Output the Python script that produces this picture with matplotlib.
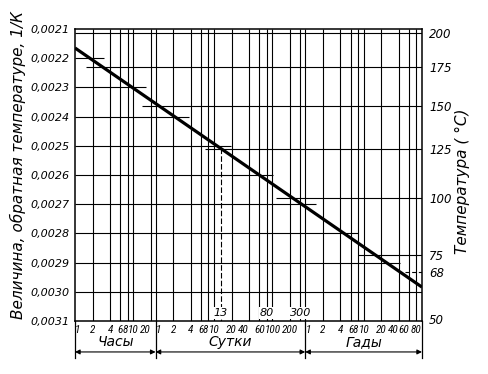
import numpy as np
import matplotlib
matplotlib.use("Agg")
import matplotlib.pyplot as plt
import matplotlib.transforms as mtransforms
from matplotlib import font_manager

# straight line of the nomogram: time (hours) vs reciprocal temperature (1/K)
line_time_h = [1, 876000]
line_inv_k = [0.002165, 0.002984]

inv_ticks = [0.0021, 0.0022, 0.0023, 0.0024, 0.0025, 0.0026,
             0.0027, 0.0028, 0.0029, 0.0030, 0.0031]
temp_ticks = [200, 175, 150, 125, 100, 75, 68, 50]
temp_lines = [200, 175, 150, 125, 100, 75]
temp_dashed = 68

hour_marks = [1, 2, 4, 6, 8, 10, 20]
day_marks = [1, 2, 4, 6, 8, 10, 20, 40, 60, 80, 100, 200, 300]
day_labels = [1, 2, 4, 6, 8, 10, 20, 40, 60, 100, 200]
year_marks = [1, 2, 4, 6, 8, 10, 20, 40, 60, 80]
marked_days = [13, 80, 300]
groups = ["Часы", "Сутки", "Гады"]

H_DAY = 24
H_YEAR = 8760
X_MAX = 100 * H_YEAR

# pick the narrowest font available for the crowded time labels
fl = font_manager.fontManager.ttflist
names = {f.name for f in fl}
narrow, stretch = "Roboto", "normal"
if any(f.name == "DejaVu Sans" and "Condensed" in f.fname for f in fl):
    narrow, stretch = "DejaVu Sans", "condensed"
for cand in ["Roboto Condensed", "Liberation Sans Narrow"]:
    if cand in names:
        narrow, stretch = cand, "normal"
        break
main = "DejaVu Sans"

fig = plt.figure(figsize=(4.89, 3.74), dpi=100)
W, H = 489, 374
ax = fig.add_axes([75 / W, 1 - 321 / H, (422 - 75) / W, (321 - 29) / H])
ax.set_xscale("log")
ax.set_xlim(1, X_MAX)
ax.set_ylim(0.0031, 0.0021)
for s in ax.spines.values():
    s.set_linewidth(1.1)

lw_grid = 0.8
lt0, lt1 = np.log10(line_time_h)
v0, v1 = line_inv_k


def cross_log(v):
    return lt0 + (v - v0) / (v1 - v0) * (lt1 - lt0)


# horizontal lines for 1/K values: from left edge to just past the line
for v in inv_ticks[1:-1]:
    xe = min(cross_log(v) + 0.24, np.log10(X_MAX))
    ax.hlines(v, 1, 10 ** xe, color="k", lw=lw_grid)

# horizontal lines for temperatures: from a bit left of the line to right edge
for t in temp_lines:
    v = 1 / (t + 273.15)
    xs = max(cross_log(v) - 0.29, 0)
    ax.hlines(v, 10 ** xs, X_MAX, color="k", lw=lw_grid)
v68 = 1 / (temp_dashed + 273.15)
ax.hlines(v68, 10 ** (cross_log(v68) + 0.1), X_MAX, color="k", lw=lw_grid,
          linestyles=(0, (4, 2)))

# vertical lines
xs_all = hour_marks[1:] + [d * H_DAY for d in day_marks] + [y * H_YEAR for y in year_marks]
ax.vlines(xs_all, 0.0021, 0.0031, color="k", lw=lw_grid)

# main line
ax.plot(line_time_h, line_inv_k, color="k", lw=2.3, solid_capstyle="butt", zorder=5)

# dashed drop line at 13 days
t13 = marked_days[0] * H_DAY
y13 = v0 + (np.log10(t13) - lt0) / (lt1 - lt0) * (v1 - v0)
ax.vlines(t13, y13, 0.0031, color="k", lw=lw_grid, linestyles=(0, (5, 2)))

trans = mtransforms.blended_transform_factory(ax.transData, ax.transAxes)
for d in marked_days:
    ax.text(d * H_DAY, 0.028, str(d), transform=trans, ha="center", va="center",
            fontsize=8, style="italic", family=main, zorder=6,
            bbox=dict(facecolor="white", edgecolor="none", pad=0.6))

# axis ticks
ax.set_yticks(inv_ticks)
ax.set_yticklabels([("%.4f" % v).replace(".", ",") for v in inv_ticks])
ax.tick_params(axis="y", length=0, pad=4, labelsize=8)
for lbl in ax.get_yticklabels():
    lbl.set_style("italic")
    lbl.set_family(main)

xt = hour_marks + [d * H_DAY for d in day_labels] + [y * H_YEAR for y in year_marks]
xl = [str(h) for h in hour_marks] + [str(d) for d in day_labels] + [str(y) for y in year_marks]
# crowded labels are nudged like in the drawing: some sit left of their line
align = (["left", "center", "center", "center", "right", "center", "right"]
         + ["left", "center", "center", "center", "right", "center", "center",
            "right", "center", "center", "center"]
         + ["left", "center", "center", "center", "right", "center", "center",
            "right", "right", "center"])
ax.xaxis.set_minor_locator(matplotlib.ticker.NullLocator())
ax.set_xticks(xt)
ax.set_xticklabels(xl)
ax.tick_params(axis="x", length=0, pad=3, labelsize=8)
for lbl, ha in zip(ax.get_xticklabels(), align):
    lbl.set_style("italic")
    lbl.set_family(narrow)
    lbl.set_fontstretch(stretch)
    lbl.set_horizontalalignment(ha)

ax2 = ax.twinx()
ax2.set_ylim(0.0031, 0.0021)
ax2.set_yticks([1 / (t + 273.15) for t in temp_ticks])
ax2.set_yticklabels([str(t) for t in temp_ticks])
ax2.tick_params(axis="y", length=0, pad=5, labelsize=8.5)
for lbl in ax2.get_yticklabels():
    lbl.set_style("italic")
    lbl.set_family(main)
for s in ax2.spines.values():
    s.set_visible(False)

# group dimension lines under the axis
bounds = [1, H_DAY, H_YEAR, X_MAX]
for b in bounds:
    ax.plot([b, b], [0, -0.127], transform=trans, color="k", lw=0.9, clip_on=False)
for i, name in enumerate(groups):
    a, b = bounds[i], bounds[i + 1]
    ax.annotate("", xy=(b, -0.106), xytext=(a, -0.106), xycoords=trans, textcoords=trans,
                arrowprops=dict(arrowstyle="<|-|>", color="k", lw=0.8,
                                mutation_scale=7, shrinkA=0, shrinkB=0))
    mid = 10 ** ((np.log10(a) + np.log10(b)) / 2)
    ax.text(mid, -0.072, name, transform=trans, ha="center", va="center",
            fontsize=10, style="italic", family=main)

fig.text(17.5 / W, 1 - 165 / H, "Величина, обратная температуре, 1/К", rotation=90,
         ha="center", va="center", fontsize=11, style="italic", family=main)
fig.text(462 / W, 1 - 181 / H, "Температура ( °С)", rotation=90,
         ha="center", va="center", fontsize=11, style="italic", family=main)

fig.savefig("out.png", dpi=100)
